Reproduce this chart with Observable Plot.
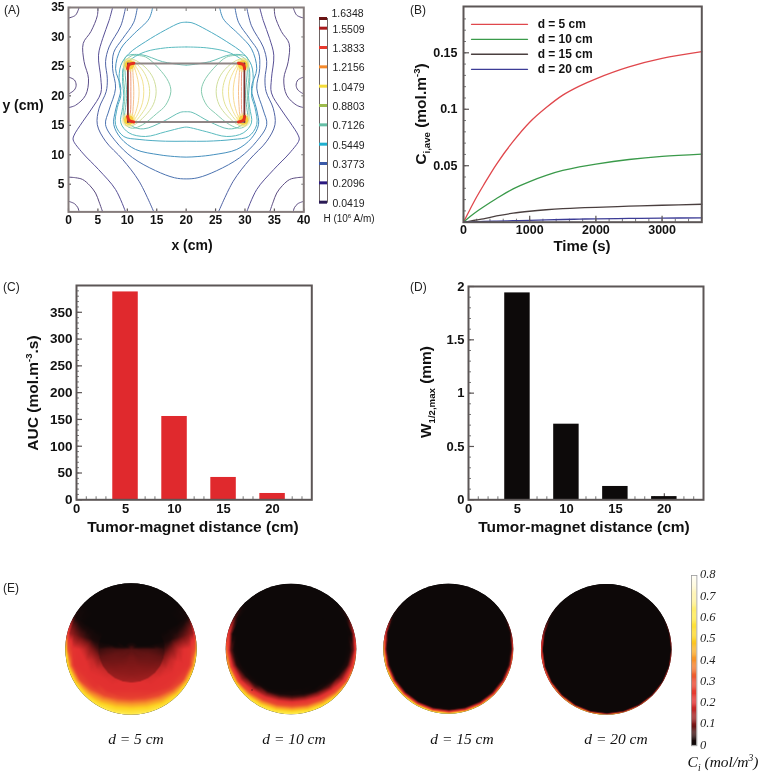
<!DOCTYPE html>
<html><head><meta charset="utf-8">
<script src="https://cdn.jsdelivr.net/npm/d3@7"></script>
<script src="https://cdn.jsdelivr.net/npm/@observablehq/plot@0.6"></script>
<style>
html,body{margin:0;padding:0;background:#fff}
#chart{position:relative;width:760px;height:773px;overflow:hidden;background:#fff;filter:blur(0.45px)}
#chart svg{position:absolute;overflow:visible;background:transparent}
</style></head><body><div id="chart"></div>
<script>
const SANS = "'Liberation Sans',Arial,sans-serif", SERIF = "'Liberation Serif','Times New Roman',serif";
// ---------- Panel A: contour lines, left half (cm); the field is mirrored about x = 20
const arcBottomSmall = [[0,2.1],[1,1.7],[1.6,1],[1.8,0.3]];
const arcBottomLarge = [[0,6.2],[1.2,6.1],[2.4,5.8],[3.6,4.8],[4.6,3.5],[5.2,2],[5.8,0.3]];
const arcTop = [[0,33.2],[1.2,33.7],[1.8,35]];
const arcMiddle = [[0,23.2],[1,22.7],[1.3,21.8],[1,21],[0,20.3]];
const c1 = [[5,35],[4.9,33.6],[3.8,30.9],[2.5,28.9],[2.65,25.8],[3.4,22.9],[2.9,20.1],[1.2,18.4],[0,18]];
const c2 = [[7.5,35],[6.9,32.8],[5.8,29.7],[5.1,26.9],[5.5,22.9],[5.5,20.5],[3.8,17.6],[2.4,15.6],[0.9,13.2],[0.8,12.5],[2.4,10.3],[5.1,7.5],[8,4.1],[9.7,0.3]];
const c3 = [[9.7,35],[8.9,31.9],[6.9,28.3],[6.3,25.8],[6.6,22.9],[6.4,20.7],[5.2,17.9],[4.9,15.1],[6.3,12.3],[9.2,9.2],[12,5.5],[14.5,0.3]];
const c4 = [[11.7,35],[11.1,32.5],[9.2,29.7],[7.7,27.4],[7.5,24.6],[8,21.3],[6.9,17.6],[6.3,15.1],[8,12.3],[10.9,9.5],[14.8,7.3],[18,6.1],[20,5.9]];
const c5 = [[14.3,35],[13.7,33.1],[10.9,30.3],[8.9,28],[8,24.6],[8.9,21.3],[8,17.6],[7.7,15.1],[8.9,12.8],[11.4,10.9],[15.4,10],[18,9.7],[20,9.6]];
const c6 = [[20,32.5],[19,32.4],[16.5,31.2],[13.1,29.2],[10.3,27.2],[8.9,25.2],[8.6,22.4],[8.9,20.1],[8.3,18],[8,15.1],[9.4,13.1],[12,12.6],[16.5,12.3],[20,12.3]];
const c7 = [[20,28.3],[16.5,28.15],[13.1,27.5],[10.9,26.4],[9.4,25],[9.2,22.4],[9.4,20.1],[9.2,18],[8.9,15.4],[10.3,13.7],[13.1,13.1],[16.5,13.9],[19.3,14.6],[20,14.7]];
const c8 = [[20,25.2],[19,25.3],[16,25.8],[12.3,27],[9.7,26.6],[9.6,24.4],[9.9,20.1],[9.7,18],[9.6,16.3],[10.9,14.8],[12.8,14.4],[16,15.6],[19,17.2],[20,17.3]];
const l0 = [[10.9,26.9],[13.1,26.6],[15.3,24.7],[17,22.4],[17.4,20.7],[16.5,18.4],[15,17],[12.6,15.1],[10.9,14.5],[9.8,15],[9.3,16.5],[9.6,20],[9.3,24],[9.7,26],[10.9,26.9]];
const l1 = [[9.7,26.2],[11,26.2],[13,24.9],[14.4,23],[14.9,20.7],[14.4,18.5],[13,16.6],[11,15],[9.7,15]];
const l2 = [[9.9,26],[11,25.8],[12.4,24.6],[13.4,22.8],[13.8,20.7],[13.4,18.6],[12.4,16.9],[11,15.4],[9.9,15.3]];
const l3 = [[10,25.8],[11,25.5],[12,24],[12.6,22.5],[12.8,20.7],[12.6,18.9],[12,17.3],[11,15.8],[10,15.5]];
const l4 = [[10.2,25.6],[11,25.1],[11.6,23.5],[11.9,22],[12,20.7],[11.9,19.2],[11.6,17.8],[11,16.3],[10.2,15.7]];
const l5 = [[10.2,25.5],[10.8,24.8],[11,23],[11.1,20.7],[11,18.2],[10.8,16.6],[10.2,16]];
const l6 = [[10.2,25.3],[10.5,24.5],[10.6,22.5],[10.6,20.7],[10.6,18.5],[10.5,17],[10.2,16.2]];
const magnetX = [10.1,29.9], magnetY = [25.5,15.55];
const hotSpots = [[10.35,25.25],[10.25,15.9]];
const hotArcTop = [[10.05,24.6],[10.3,25.3],[11.1,25.55]];
const hotArcBottom = [[10.05,16.5],[10.3,15.85],[11.1,15.55]];

const openCurves = [[arcBottomSmall,"#5a4a80"],[arcBottomLarge,"#5a4a80"],[arcTop,"#5a4a80"],[arcMiddle,"#5a4a80"],[c1,"#5c4e8a"],[c2,"#574f96"],[c3,"#4f62a4"],[l1,"#d0de9c"],[l2,"#e2e294"],[l3,"#f3e292"],[l4,"#f8da90"],[l5,"#f6c08c"],[l6,"#ee9a7c"],[l0,"#86cbb0"]];
const meetingCurves = [[c4,"#4a72b0"],[c5,"#4590be"],[c6,"#4dacc2"],[c7,"#5abbbf"],[c8,"#68c0b6"]];
const levels = [0.0419,0.2096,0.3773,0.5449,0.7126,0.8803,1.0479,1.2156,1.3833,1.5509,1.6348];
const levelColors = ["#2a1a55","#2c1a80","#3a5aa8","#1fb0d0","#66bfa6","#9dbb4c","#f5dc3a","#f58a2c","#e8392e","#a81a1c","#6a1414"];
// ---------- Panel B
const times = [0,100,200,300,500,750,1000,1250,1500,1750,2000,2500,3000,3600];
const d5 = [0,.0115,.0225,.0325,.0515,.0715,.0885,.1015,.1125,.1205,.127,.1375,.145,.151];
const d10 = [0,.005,.0095,.0135,.021,.0295,.036,.0415,.0458,.049,.0515,.0555,.0583,.0603];
const d15 = [0,.001,.002,.003,.0055,.008,.0097,.011,.012,.0127,.0132,.0142,.015,.0159];
const d20 = [0,.0003,.0005,.0007,.001,.0013,.0016,.002,.0024,.0027,.003,.0033,.0036,.0038];
const seriesNames = ["d = 5 cm","d = 10 cm","d = 15 cm","d = 20 cm"];
const seriesColors = ["#e0474c","#3a9a4a","#4a3f3f","#3c3c96"];
const legendY = [.1752,.1619,.1487,.1354], legendT = [121,967];
// ---------- Panels C, D
const distances = [5,10,15,20], barHalf = 1.3;
const auc = [388,155.5,41.7,11.8];
const width12 = [1.94,.709,.125,.03];
// ---------- Panel E: concentration on a polar mesh (deg from the bottom, fraction of radius)
const angles = [0,15,30,45,60,75,90,105,120,135,150,165,180];
const r5 = [0,.12,.25,.38,.497,.51,.62,.72,.8,.9,.97,1];
const v5 = [
 [.072,.09,.1,.115,.14,.2,.21,.25,.36,.5,.58,.64],
 [.072,.09,.1,.115,.135,.2,.2,.24,.34,.48,.57,.63],
 [.072,.085,.095,.11,.13,.19,.2,.21,.29,.43,.54,.6],
 [.072,.08,.09,.1,.12,.18,.2,.205,.22,.36,.5,.56],
 [.072,.08,.085,.09,.1,.16,.19,.2,.21,.27,.45,.54],
 [.072,.075,.08,.08,.08,.11,.17,.2,.2,.21,.4,.52],
 [.072,.065,.065,.06,.05,.06,.11,.17,.2,.22,.32,.5],
 [.072,.03,0,0,0,.02,.03,.05,.07,.1,.13,.25],
 [.072,0,0,0,0,0,0,0,0,.01,.02,.04],
 [.072,0,0,0,0,0,0,0,0,0,0,0],
 [.072,0,0,0,0,0,0,0,0,0,0,0],
 [.072,0,0,0,0,0,0,0,0,0,0,0],
 [.072,0,0,0,0,0,0,0,0,0,0,0]];
const r10 = [0,.6,.68,.73,.8,.88,.94,.97,1];
const v10 = [
 [0,0,.02,.07,.2,.35,.5,.58,.64],[0,0,.01,.06,.19,.33,.48,.56,.62],[0,0,0,.03,.14,.29,.44,.53,.6],
 [0,0,0,.01,.07,.22,.36,.47,.56],[0,0,0,0,.02,.12,.24,.36,.5],[0,0,0,0,0,.04,.17,.27,.42],
 [0,0,0,0,0,.01,.08,.2,.34],[0,0,0,0,0,0,.01,.1,.22],[0,0,0,0,0,0,0,.02,.06],
 [0,0,0,0,0,0,0,0,0],[0,0,0,0,0,0,0,0,0],[0,0,0,0,0,0,0,0,0],[0,0,0,0,0,0,0,0,0]];
const r15 = [0,.9,.93,.96,.98,1];
const v15 = [[0,0,.02,.2,.4,.62],[0,0,.02,.2,.4,.6],[0,0,.01,.18,.38,.58],[0,0,.005,.14,.33,.54],[0,0,0,.1,.28,.5],[0,0,0,.07,.23,.46],
 [0,0,0,.04,.18,.42],[0,0,0,0,.05,.2],[0,0,0,0,0,.03],[0,0,0,0,0,0],[0,0,0,0,0,0],[0,0,0,0,0,0],[0,0,0,0,0,0]];
const r20 = [0,.95,.97,.985,1];
const v20 = [[0,0,.03,.2,.5],[0,0,.03,.2,.5],[0,0,.02,.17,.46],[0,0,.01,.13,.4],[0,0,0,.08,.33],[0,0,0,.05,.28],[0,0,0,.03,.25],[0,0,0,.01,.12],
 [0,0,0,0,.02],[0,0,0,0,0],[0,0,0,0,0],[0,0,0,0,0],[0,0,0,0,0]];
const discCaptions = ["d = 5 cm","d = 10 cm","d = 15 cm","d = 20 cm"];
const heatStops = [0,.03,.1,.2,.3,.4,.5,.6,.7,.8];
const heatColors = ["#0d0808","#1c0a0a","#801818","#e23030","#ea4a30","#f7942a","#fdd322","#ffea4a","#fff4b0","#ffffff"];
const heatTicks = [0,.1,.2,.3,.4,.5,.6,.7,.8];

const chart = document.getElementById("chart");
const place = (el,left,top) => { el.style.left = left+"px"; el.style.top = top+"px"; chart.appendChild(el); return el; };

function panel({left,top,right,bottom,x,y,marks,frame="#5c5656",fw=2}) {
  const ml=50, mr=6, mt=6, mb=24;
  const p = Plot.plot({width:right-left+ml+mr, height:bottom-top+mt+mb, marginLeft:ml, marginRight:mr, marginTop:mt, marginBottom:mb,
    x:{domain:x}, y:{domain:y}, style:{fontFamily:SANS},
    marks:[...marks, Plot.frame({stroke:frame,strokeWidth:fw})]});
  return place(p,left-ml,top-mt);
}
const tickColor = "#5c5656";
const blank = () => "";
const majorX = (v,fs,pad,ts=-6,fmt=d=>String(d)) => Plot.axisX(v,{anchor:"bottom",label:null,tickSize:ts,tickPadding:pad-ts,tickFormat:fmt,fontSize:fs,fontWeight:"bold",stroke:tickColor,fill:"#111",strokeWidth:1.2});
const majorY = (v,fs,pad,ts=-6,fmt=d=>String(d)) => Plot.axisY(v,{anchor:"left",label:null,tickSize:ts,tickPadding:pad-ts,tickFormat:fmt,fontSize:fs,fontWeight:"bold",stroke:tickColor,fill:"#111",strokeWidth:1.2});
const minorX = v => Plot.axisX(v,{anchor:"bottom",label:null,tickSize:-3,tickFormat:blank,stroke:"#777"});
const minorY = v => Plot.axisY(v,{anchor:"left",label:null,tickSize:-3,tickFormat:blank,stroke:"#777"});
const mirror = ([a,b]) => [40-a,b];
const lineOf = (pts,stroke,w=1) => Plot.line(pts,{x:d=>d[0],y:d=>d[1],stroke,strokeWidth:w,curve:"catmull-rom"});

// Panel A
panel({left:67.7,top:7.3,right:303,bottom:211.7,x:[0,40],y:[0.3,35],frame:"#857c7c",fw:2,marks:[
  ...openCurves.flatMap(([c,s])=>[lineOf(c,s),lineOf(c.map(mirror),s)]),
  ...meetingCurves.map(([c,s])=>lineOf(c.concat(c.slice(0,-1).reverse().map(mirror)),s)),
  ...hotSpots.flatMap(h=>[[h[0],h[1]],mirror(h)]).flatMap(h=>[
     Plot.dot([h],{x:d=>d[0],y:d=>d[1],r:7,fill:"#f8e88a",fillOpacity:.6}),
     Plot.dot([h],{x:d=>d[0],y:d=>d[1],r:4.8,fill:"#f8cf3c"})]),
  Plot.line([[magnetX[0],magnetY[0]],[magnetX[1],magnetY[0]]],{x:d=>d[0],y:d=>d[1],stroke:"#8f8585",strokeWidth:2}),
  Plot.line([[magnetX[0],magnetY[1]],[magnetX[1],magnetY[1]]],{x:d=>d[0],y:d=>d[1],stroke:"#8f8585",strokeWidth:2}),
  Plot.line([[magnetX[0],magnetY[0]],[magnetX[0],magnetY[1]]],{x:d=>d[0],y:d=>d[1],stroke:"#7a3030",strokeWidth:1.8}),
  Plot.line([[magnetX[1],magnetY[0]],[magnetX[1],magnetY[1]]],{x:d=>d[0],y:d=>d[1],stroke:"#7a3030",strokeWidth:1.8}),
  ...[hotArcTop,hotArcBottom].flatMap(a=>[lineOf(a,"#e6301f",3),lineOf(a.map(mirror),"#e6301f",3)]),
  majorX([0,5,10,15,20,25,30,35,40],12,4,-3),
  majorY([5,10,15,20,25,30,35],12,4,-3),
  Plot.axisX([5,10,15,20,25,30,35],{anchor:"top",label:null,tickSize:-3,tickFormat:blank,stroke:"#777"}),
  Plot.axisY([5,10,15,20,25,30],{anchor:"right",label:null,tickSize:-3,tickFormat:blank,stroke:"#777"})
]});

// Panel A colour legend
{
  const ml=2, mr=50, top=18.3, bottom=202;
  const p = Plot.plot({width:8+ml+mr,height:bottom-top+2,marginLeft:ml,marginRight:mr,marginTop:1,marginBottom:1,
    x:{domain:[0,1],axis:null},y:{domain:[levels[0],levels[10]],axis:null},style:{fontFamily:SANS},
    marks:[
      Plot.frame({stroke:"#6d6464",strokeWidth:1}),
      Plot.ruleY(levels,{stroke:(d,i)=>levelColors[i],strokeWidth:3}),
      Plot.text(levels.slice(0,10),{x:1,y:d=>d,text:d=>d.toFixed(4),dx:5,dy:1,textAnchor:"start",fontSize:10.5,fill:"#222"}),
      Plot.text([levels[10]],{x:1,y:d=>d,text:d=>d.toFixed(4),dx:4,dy:-5,textAnchor:"start",fontSize:10.5,fill:"#222"})
    ]});
  place(p,319.3-ml,top-1);
}

// Panel B
const table = times.map((t,i)=>({t,v:[d5[i],d10[i],d15[i],d20[i]]}));
panel({left:462.7,top:6,right:701,bottom:221.7,x:[0,3600],y:[0,.191],marks:[
  minorX(d3.range(200,3600,200)), minorY(d3.range(.01,.19,.01)),
  ...seriesNames.map((n,k)=>Plot.line(table,{x:"t",y:d=>d.v[k],stroke:seriesColors[k],strokeWidth:1.3,curve:"catmull-rom"})),
  ...seriesNames.map((n,k)=>Plot.line(legendT,{x:d=>d,y:()=>legendY[k],stroke:seriesColors[k],strokeWidth:1.3})),
  Plot.text(seriesNames,{x:()=>1120,y:(d,i)=>legendY[i],text:d=>d,textAnchor:"start",fontWeight:"bold",fontSize:12,fill:"#111"}),
  majorX([0,1000,2000,3000],12.5,3),
  majorY([.05,.1,.15],12.5,6)
]});

// Panel C
panel({left:75.7,top:285,right:311,bottom:499.3,x:[0,24],y:[0,400],marks:[
  minorX(d3.range(1,24)), minorY(d3.range(10,400,10)),
  majorX([0,5,10,15,20],13,4),
  majorY([0,50,100,150,200,250,300,350],13.5,4),
  Plot.rectY(auc,{x1:(d,i)=>distances[i]-barHalf,x2:(d,i)=>distances[i]+barHalf,y1:()=>0,y2:d=>d,fill:"#e0292d"})
]});

// Panel D
panel({left:468.3,top:285.7,right:703.3,bottom:499,x:[0,24],y:[0,2],marks:[
  minorX(d3.range(1,24)), minorY(d3.range(.1,2,.1)),
  majorX([0,5,10,15,20],13,4),
  majorY([0,.5,1,1.5,2],13,4),
  Plot.rectY(width12,{x1:(d,i)=>distances[i]-barHalf,x2:(d,i)=>distances[i]+barHalf,y1:()=>0,y2:d=>d,fill:"#0d0a0a"})
]});

// Panel E discs
const heatScale = {type:"linear",domain:heatStops,range:heatColors,clamp:true,legend:false};
function disc(cx,cy,R,radii,values) {
  const pts = [];
  values.forEach((row,a)=>radii.forEach((r,j)=>{
    if (r===0 && a>0) return;
    const th = angles[a]*Math.PI/180;
    pts.push({x:r*Math.sin(th),y:-r*Math.cos(th),v:row[j]});
    if (r>0 && angles[a]>0 && angles[a]<180) pts.push({x:-r*Math.sin(th),y:-r*Math.cos(th),v:row[j]});
  }));
  const e = 1.02, size = Math.round(2*R*e);
  const p = Plot.plot({width:size,height:size,margin:0,x:{domain:[-e,e],axis:null},y:{domain:[-e,e],axis:null},color:heatScale,
    marks:[Plot.raster(pts,{x:"x",y:"y",fill:"v",interpolate:"barycentric",pixelSize:1})]});
  p.style.clipPath = `circle(${R}px at 50% 50%)`;
  p.style.background = "#0d0808";
  return place(p,cx-size/2,cy-size/2);
}
disc(131,649,65.7,r5,v5);
disc(291,649,65.3,r10,v10);
disc(448.3,648.7,65,r15,v15);
disc(606.3,649.3,65.3,r20,v20);

// Panel E colour bar
{
  const ml=1,mr=30,mt=1,mb=1,top=574.7,bottom=745;
  const p = Plot.plot({width:5.4+ml+mr,height:bottom-top+mt+mb,marginLeft:ml,marginRight:mr,marginTop:mt,marginBottom:mb,
    x:{domain:[0,1],axis:null},y:{domain:[0,.8],axis:null},color:heatScale,
    marks:[
      Plot.rect(d3.range(0,.8,.005),{x1:()=>0,x2:()=>1,y1:d=>d,y2:d=>d+.0055,fill:d=>d}),
      Plot.frame({stroke:"#9a9a9a",strokeWidth:.8}),
      Plot.text(heatTicks,{x:()=>1,y:d=>d,text:d=>String(d),dx:3,dy:-1,textAnchor:"start",fontFamily:SERIF,fontStyle:"italic",fontSize:12.5,fill:"#222"})
    ]});
  place(p,690.7-ml,top-mt);
}

// Free text: titles, sub and superscripts
const NS="http://www.w3.org/2000/svg";
const over=document.createElementNS(NS,"svg");
over.setAttribute("width",760);over.setAttribute("height",773);over.style.left="0";over.style.top="0";over.style.pointerEvents="none";
chart.appendChild(over);
function label(x,y,parts,{size=15,weight="bold",anchor="middle",rot=0,family=SANS,style="normal",fill="#111"}={}) {
  const t=document.createElementNS(NS,"text");
  t.setAttribute("x",x);t.setAttribute("y",y);t.setAttribute("text-anchor",anchor);t.setAttribute("font-size",size);
  t.setAttribute("font-weight",weight);t.setAttribute("font-family",family);t.setAttribute("font-style",style);t.setAttribute("fill",fill);
  if(rot) t.setAttribute("transform",`rotate(${rot} ${x} ${y})`);
  (typeof parts==="string"?[[parts]]:parts).forEach((p,i,a)=>{
    const s=document.createElementNS(NS,"tspan");s.textContent=p[0];
    const k=p[1];const prev=i?a[i-1][1]:null;let dy=0;
    if(prev==="sub")dy-=size*.28; if(prev==="sup")dy+=size*.38;
    if(k==="sub"){dy+=size*.28;s.setAttribute("font-size",size*.62);}
    if(k==="sup"){dy-=size*.38;s.setAttribute("font-size",size*.62);}
    if(dy)s.setAttribute("dy",dy);
    t.appendChild(s);
  });
  over.appendChild(t);
}
const letter={size:12,weight:"normal",anchor:"start",fill:"#222"};
label(4,14,"(A)",letter);label(410,14,"(B)",letter);label(3,291,"(C)",letter);label(410,291,"(D)",letter);label(3,592,"(E)",letter);
label(192,250,"x (cm)",{size:14});
label(23,110,"y (cm)",{size:14});
label(349,222,[["H (10"],["6","sup"],[" A/m)"]],{size:10,weight:"normal",fill:"#222"});
label(582,251,"Time (s)",{size:15});
label(426,114,[["C"],["i,ave","sub"],[" (mol.m"],["-3","sup"],[")"]],{size:15.5,rot:-90});
label(193,532,"Tumor-magnet distance (cm)",{size:15.5});
label(584,532,"Tumor-magnet distance (cm)",{size:15.5});
label(38,393,[["AUC (mol.m"],["-3","sup"],[".s)"]],{size:15.5,rot:-90});
label(431,392,[["W"],["1/2,max","sub"],[" (mm)"]],{size:15.5,rot:-90});
const cap={size:15.5,weight:"normal",family:SERIF,style:"italic",fill:"#111"};
[136,294,462,616].forEach((x,i)=>label(x,744,discCaptions[i],cap));
label(723,767,[["C"],["i","sub"],[" (mol/m"],["3","sup"],[")"]],cap);
</script></body></html>
